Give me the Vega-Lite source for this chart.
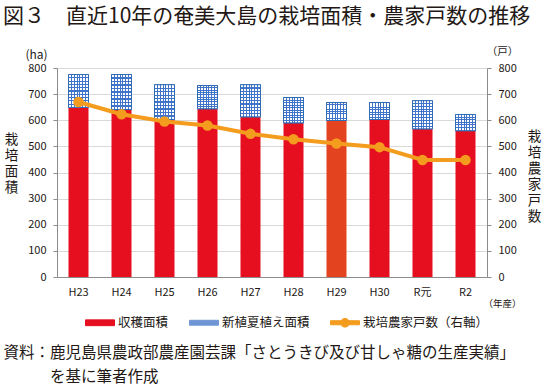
{
  "$schema": "https://vega.github.io/schema/vega-lite/v6.json",
  "width": 430,
  "height": 209,
  "autosize": {"type": "none"},
  "padding": {"left": 57, "top": 68, "right": 58, "bottom": 109},
  "background": "white",
  "config": {
    "font": "Noto Sans CJK JP",
    "view": {"stroke": null},
    "axis": {"labelFont": "Noto Sans CJK JP", "titleFont": "Noto Sans CJK JP", "labelColor": "#231815", "titleColor": "#231815", "titleFontWeight": "normal"},
    "legend": {"labelFont": "Noto Sans CJK JP", "labelColor": "#231815"}
  },
  "title": {
    "text": "図３　直近10年の奄美大島の栽培面積・農家戸数の推移",
    "anchor": "start",
    "frame": "group",
    "dx": -54,
    "dy": -6,
    "fontSize": 21,
    "fontWeight": "normal",
    "color": "#231815",
    "baseline": "top",
    "offset": 13
  },
  "data": {
    "values": [
      {"year": "H23", "harvest": 649, "total": 775, "households": 670},
      {"year": "H24", "harvest": 641, "total": 775, "households": 623},
      {"year": "H25", "harvest": 603, "total": 736, "households": 595},
      {"year": "H26", "harvest": 644, "total": 733, "households": 580},
      {"year": "H27", "harvest": 613, "total": 736, "households": 548},
      {"year": "H28", "harvest": 590, "total": 687, "households": 527},
      {"year": "H29", "harvest": 599, "total": 668, "households": 511},
      {"year": "H30", "harvest": 603, "total": 668, "households": 497},
      {"year": "R元", "harvest": 567, "total": 675, "households": 448},
      {"year": "R2", "harvest": 560, "total": 622, "households": 448}
    ]
  },
  "layer": [
    {
      "layer": [
        {
          "mark": {"type": "bar"},
          "encoding": {
            "x": {
              "field": "year", "type": "nominal", "sort": null,
              "scale": {"paddingInner": 0.535, "paddingOuter": 0.2675},
              "axis": {"orient": "bottom", "title": "（年産）", "titleFontSize": 9.5, "titleX": 445, "titleY": 29, "titleAlign": "center", "titleAnchor": null, "titleBaseline": "alphabetic", "labelAngle": 0, "labelFontSize": 11, "labelPadding": 9, "ticks": false, "tickSize": 0, "domainColor": "#8c8c8c", "grid": false}
            },
            "y": {
              "field": "harvest", "type": "quantitative",
              "scale": {"domain": [0, 800], "nice": false},
              "axis": {"orient": "left", "values": [0, 100, 200, 300, 400, 500, 600, 700, 800], "title": ["栽", "培", "面", "積"], "titleAngle": 0, "titleAlign": "center", "titleAnchor": null, "titleBaseline": "top", "titleX": -46, "titleY": 64, "titleFontSize": 13.5, "titleLineHeight": 16, "grid": true, "gridColor": "#d9d9d9", "domainColor": "#8c8c8c", "tickColor": "#8c8c8c", "tickSize": 4, "labelPadding": 7, "labelFontSize": 11}
            },
            "color": {
              "datum": "収穫面積",
              "condition": {"test": "datum.year === 'H29'", "value": "#E4431F"},
              "scale": {"domain": ["収穫面積", "新植夏植え面積", "栽培農家戸数（右軸）"], "range": ["#E60F1F", "#6f95d4", "#F39C1E"]},
              "legend": {
                "orient": "none", "legendX": 28, "legendY": 239.5, "direction": "horizontal", "columns": 3,
                "title": null,
                "symbolType": "M-1,-0.2H1V0.2H-1Z",
                "symbolSize": 841,
                "symbolStrokeWidth": 1,
                "labelFontSize": 12.5,
                "labelOffset": 3,
                "columnPadding": 18,
                "encode": {
                  "symbols": {
                    "update": {
                      "shape": {"signal": "datum.value === '栽培農家戸数（右軸）' ? 'M-1,-0.14H1V0.14H-1Z M-0.3,0A0.3,0.3 0 1,1 0.3,0A0.3,0.3 0 1,1 -0.3,0Z' : datum.value === '新植夏植え面積' ? 'M-1,-0.17H1V0.17H-1Z' : 'M-1,-0.2H1V0.2H-1Z'"},
                      "fill": {"signal": "datum.value === '新植夏植え面積' ? {gradient: 'linear', x1: 0, y1: 0, x2: 1, y2: 0, stops: [{offset: 0, color: '#3f74c8'}, {offset: 0.05, color: '#3f74c8'}, {offset: 0.05, color: '#c8d8f2'}, {offset: 0.17, color: '#c8d8f2'}, {offset: 0.17, color: '#3f74c8'}, {offset: 0.23, color: '#3f74c8'}, {offset: 0.23, color: '#c8d8f2'}, {offset: 0.37, color: '#c8d8f2'}, {offset: 0.37, color: '#3f74c8'}, {offset: 0.43, color: '#3f74c8'}, {offset: 0.43, color: '#c8d8f2'}, {offset: 0.57, color: '#c8d8f2'}, {offset: 0.57, color: '#3f74c8'}, {offset: 0.63, color: '#3f74c8'}, {offset: 0.63, color: '#c8d8f2'}, {offset: 0.77, color: '#c8d8f2'}, {offset: 0.77, color: '#3f74c8'}, {offset: 0.83, color: '#3f74c8'}, {offset: 0.83, color: '#c8d8f2'}, {offset: 0.95, color: '#c8d8f2'}, {offset: 0.95, color: '#3f74c8'}, {offset: 1, color: '#3f74c8'}]} : scale('color', datum.value)"},
                      "stroke": {"signal": "datum.value === '新植夏植え面積' ? '#2f6cb5' : 'transparent'"},
                      "fillOpacity": {"value": 1},
                      "opacity": {"value": 1}
                    }
                  }
                }
              }
            }
          }
        },
        {
          "mark": {"type": "bar", "stroke": "#2f6cb5", "strokeWidth": 1},
          "encoding": {
            "x": {
              "field": "year", "type": "nominal", "sort": null,
              "axis": {"orient": "bottom", "title": ["資料：鹿児島県農政部農産園芸課「さとうきび及び甘しゃ糖の生産実績」", "\u200b\u3000\u3000\u3000を基に筆者作成"], "labels": false, "ticks": false, "domain": false, "grid": false, "titleX": -54, "titleY": 80, "titleAlign": "left", "titleAnchor": null, "titleBaseline": "alphabetic", "titleFontSize": 15.5, "titleLineHeight": 24}
            },
            "y": {
              "field": "harvest", "type": "quantitative",
              "scale": {"domain": [0, 800], "nice": false},
              "axis": {"orient": "left", "title": "(ha)", "labels": false, "ticks": false, "domain": false, "grid": false, "titleAngle": 0, "titleX": -21, "titleY": -10, "titleAlign": "center", "titleAnchor": null, "titleBaseline": "alphabetic", "titleFontSize": 12}
            },
            "y2": {"field": "total"},
            "color": {"datum": "新植夏植え面積"}
          }
        },
        {
          "mark": {
            "type": "bar",
            "fill": {
              "gradient": "linear", "x1": 0, "y1": 0, "x2": 1, "y2": 0,
              "stops": [
                {"offset": 0, "color": "#ffffff"},
                {"offset": 0.118, "color": "#ffffff"}, {"offset": 0.118, "color": "#3f74c8"}, {"offset": 0.168, "color": "#3f74c8"}, {"offset": 0.168, "color": "#ffffff"},
                {"offset": 0.261, "color": "#ffffff"}, {"offset": 0.261, "color": "#3f74c8"}, {"offset": 0.311, "color": "#3f74c8"}, {"offset": 0.311, "color": "#ffffff"},
                {"offset": 0.404, "color": "#ffffff"}, {"offset": 0.404, "color": "#3f74c8"}, {"offset": 0.454, "color": "#3f74c8"}, {"offset": 0.454, "color": "#ffffff"},
                {"offset": 0.547, "color": "#ffffff"}, {"offset": 0.547, "color": "#3f74c8"}, {"offset": 0.597, "color": "#3f74c8"}, {"offset": 0.597, "color": "#ffffff"},
                {"offset": 0.689, "color": "#ffffff"}, {"offset": 0.689, "color": "#3f74c8"}, {"offset": 0.739, "color": "#3f74c8"}, {"offset": 0.739, "color": "#ffffff"},
                {"offset": 0.832, "color": "#ffffff"}, {"offset": 0.832, "color": "#3f74c8"}, {"offset": 0.882, "color": "#3f74c8"}, {"offset": 0.882, "color": "#ffffff"},
                {"offset": 1, "color": "#ffffff"}
              ]
            }
          },
          "encoding": {
            "x": {"field": "year", "type": "nominal", "sort": null, "axis": null},
            "y": {"field": "harvest", "type": "quantitative", "scale": {"domain": [0, 800], "nice": false}, "axis": null},
            "y2": {"field": "total"}
          }
        },
        {
          "mark": {
            "type": "bar",
            "stroke": "#2f6cb5",
            "strokeWidth": 1,
            "fill": {
              "gradient": "linear", "x1": 0, "y1": 0, "x2": 0, "y2": 1,
              "stops": [
                {"offset": 0, "color": "rgba(255,255,255,0)"},
                {"offset": 0.082, "color": "rgba(255,255,255,0)"}, {"offset": 0.082, "color": "#3f74c8"}, {"offset": 0.118, "color": "#3f74c8"}, {"offset": 0.118, "color": "rgba(255,255,255,0)"},
                {"offset": 0.182, "color": "rgba(255,255,255,0)"}, {"offset": 0.182, "color": "#3f74c8"}, {"offset": 0.218, "color": "#3f74c8"}, {"offset": 0.218, "color": "rgba(255,255,255,0)"},
                {"offset": 0.282, "color": "rgba(255,255,255,0)"}, {"offset": 0.282, "color": "#3f74c8"}, {"offset": 0.318, "color": "#3f74c8"}, {"offset": 0.318, "color": "rgba(255,255,255,0)"},
                {"offset": 0.382, "color": "rgba(255,255,255,0)"}, {"offset": 0.382, "color": "#3f74c8"}, {"offset": 0.418, "color": "#3f74c8"}, {"offset": 0.418, "color": "rgba(255,255,255,0)"},
                {"offset": 0.482, "color": "rgba(255,255,255,0)"}, {"offset": 0.482, "color": "#3f74c8"}, {"offset": 0.518, "color": "#3f74c8"}, {"offset": 0.518, "color": "rgba(255,255,255,0)"},
                {"offset": 0.582, "color": "rgba(255,255,255,0)"}, {"offset": 0.582, "color": "#3f74c8"}, {"offset": 0.618, "color": "#3f74c8"}, {"offset": 0.618, "color": "rgba(255,255,255,0)"},
                {"offset": 0.682, "color": "rgba(255,255,255,0)"}, {"offset": 0.682, "color": "#3f74c8"}, {"offset": 0.718, "color": "#3f74c8"}, {"offset": 0.718, "color": "rgba(255,255,255,0)"},
                {"offset": 0.782, "color": "rgba(255,255,255,0)"}, {"offset": 0.782, "color": "#3f74c8"}, {"offset": 0.818, "color": "#3f74c8"}, {"offset": 0.818, "color": "rgba(255,255,255,0)"},
                {"offset": 0.882, "color": "rgba(255,255,255,0)"}, {"offset": 0.882, "color": "#3f74c8"}, {"offset": 0.918, "color": "#3f74c8"}, {"offset": 0.918, "color": "rgba(255,255,255,0)"},
                {"offset": 1, "color": "rgba(255,255,255,0)"}
              ]
            }
          },
          "encoding": {
            "x": {"field": "year", "type": "nominal", "sort": null, "axis": null},
            "y": {"field": "harvest", "type": "quantitative", "scale": {"domain": [0, 800], "nice": false}, "axis": null},
            "y2": {"field": "total"}
          }
        }
      ],
      "resolve": {"axis": {"x": "independent", "y": "independent"}}
    },
    {
      "layer": [
        {
          "mark": {"type": "line", "strokeWidth": 4},
          "encoding": {
            "x": {"field": "year", "type": "nominal", "sort": null, "axis": null},
            "y": {
              "field": "households", "type": "quantitative",
              "scale": {"domain": [0, 800], "nice": false},
              "axis": {"orient": "right", "values": [0, 100, 200, 300, 400, 500, 600, 700, 800], "title": ["栽", "培", "農", "家", "戸", "数"], "titleAngle": 0, "titleAlign": "center", "titleAnchor": null, "titleBaseline": "top", "titleX": 47, "titleY": 61, "titleFontSize": 13.5, "titleLineHeight": 16, "grid": false, "domainColor": "#8c8c8c", "tickColor": "#8c8c8c", "tickSize": 4, "labelPadding": 7, "labelFontSize": 11}
            },
            "color": {"datum": "栽培農家戸数（右軸）"}
          }
        },
        {
          "mark": {"type": "point", "filled": true, "size": 110, "color": "#F39C1E", "opacity": 1},
          "encoding": {
            "x": {"field": "year", "type": "nominal", "sort": null, "axis": null},
            "y": {
              "field": "households", "type": "quantitative",
              "scale": {"domain": [0, 800], "nice": false},
              "axis": {"orient": "right", "title": "（戸）", "labels": false, "ticks": false, "domain": false, "grid": false, "titleAngle": 0, "titleX": 15, "titleY": -14, "titleAlign": "center", "titleAnchor": null, "titleBaseline": "alphabetic", "titleFontSize": 10.5}
            }
          }
        }
      ],
      "resolve": {"axis": {"y": "independent"}}
    }
  ],
  "resolve": {"scale": {"y": "independent"}, "axis": {"x": "independent", "y": "independent"}}
}
